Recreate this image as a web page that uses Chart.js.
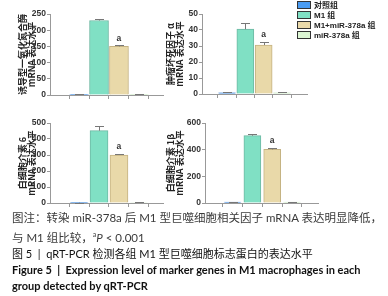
<!DOCTYPE html>
<html>
<head>
<meta charset="utf-8">
<script src="https://cdn.jsdelivr.net/npm/chart.js@4.4.0/dist/chart.umd.min.js"></script>
<style>
body { margin: 0; background: #fff; width: 388px; height: 296px; overflow: hidden; position: relative; }
canvas { position: absolute; }
#legend { position: absolute; left: 297px; top: 1px; font: bold 8px "Liberation Sans", "Noto Sans CJK SC", sans-serif; color: #222; }
#legend div { height: 10px; line-height: 10px; white-space: nowrap; }
#legend span { display: inline-block; width: 12px; height: 6px; border: 1px solid #333; vertical-align: -1px; margin-right: 3px; }
#cap { position: absolute; left: 12px; top: 210px; font-family: Lato, "Noto Sans CJK SC", sans-serif; font-size: 11.5px; line-height: 16px; color: #3a3a3a; white-space: nowrap; }
#cap .fig { color: #111; font-size: 11px; }
#cap .en { font-weight: bold; color: #111; font-size: 11px; }
</style>
</head>
<body>
<canvas id="c1" width="170" height="104" style="left:0;top:0"></canvas>
<canvas id="c2" width="165" height="103" style="left:150px;top:0"></canvas>
<canvas id="c3" width="170" height="103" style="left:0;top:109px"></canvas>
<canvas id="c4" width="175" height="103" style="left:150px;top:109px"></canvas>
<div id="legend"></div>
<div id="cap">
  <div>图注：转染 miR-378a 后 M1 型巨噬细胞相关因子 mRNA 表达明显降低，</div>
  <div>与 M1 组比较，<sup style="font-size:7px">a</sup><i>P</i> &lt; 0.001</div>
  <div class="fig">图 5 &nbsp;|&nbsp; qRT-PCR 检测各组 M1 型巨噬细胞标志蛋白的表达水平</div>
  <div class="en">Figure 5 &nbsp;|&nbsp; Expression level of marker genes in M1 macrophages in each</div>
  <div class="en">group detected by qRT-PCR</div>
</div>
<script>
const groups = ['对照组', 'M1 组', 'M1+miR-378a 组', 'miR-378a 组']
const fills = ['#4a9cf2', '#80e0c4', '#e9d9a9', '#ddf7d4']
const edges = ['#3472c4', '#6fb9a4', '#c4b282', '#b9d9b0']

const inosMean = [2, 230, 150, 2]
const inosErr = [1, 6, 3, 1]
const tnfMean = [0.8, 40.5, 30.6, 0.8]
const tnfErr = [0.2, 3.8, 1.7, 0.4]
const il6Mean = [2, 452, 300, 3]
const il6Err = [1, 28, 9, 2]
const il1bMean = [6, 505, 402, 6]
const il1bErr = [2, 12, 14, 2]
const sig = [false, false, true, false]

const legend = document.getElementById('legend')
groups.forEach((g, i) => {
    const row = document.createElement('div')
    row.innerHTML = `<span style="background:${fills[i]}"></span>${g}`
    legend.appendChild(row)
})

// error bars and the "a" marks, placed through the y scale
const errPlugin = {
    id: 'err',
    afterDatasetsDraw(chart, args, opts) {
        const { ctx, scales: { y } } = chart
        const means = chart.data.datasets[0].data.map(p => p.y)
        ctx.save()
        chart.getDatasetMeta(0).data.forEach((bar, i) => {
            const yTop = y.getPixelForValue(means[i] + opts.errs[i])
            const yVal = y.getPixelForValue(means[i])
            const cx = Math.round(bar.x) + 0.5
            ctx.strokeStyle = '#777'
            ctx.lineWidth = 1
            ctx.beginPath()
            ctx.moveTo(cx, yVal)
            ctx.lineTo(cx, Math.round(yTop) + 0.5)
            ctx.moveTo(cx - 4.5, Math.round(yTop) + 0.5)
            ctx.lineTo(cx + 4.5, Math.round(yTop) + 0.5)
            ctx.stroke()
            if (opts.sig[i]) {
                ctx.fillStyle = '#333'
                ctx.font = 'bold 8.5px "Liberation Sans", sans-serif'
                ctx.textAlign = 'center'
                ctx.textBaseline = 'bottom'
                ctx.fillText('a', bar.x, yTop - 3)
            }
        })
        ctx.restore()
    }
}

function makePanel(id, title, means, errs, yMax, yStep, xMin, xMax, barW, axisW, titlePad, padRight) {
    const ctx = document.getElementById(id).getContext('2d')
    return new Chart(ctx, {
        type: 'bar',
        data: {
            datasets: [{
                data: means.map((v, i) => ({ x: i, y: v })),
                backgroundColor: fills,
                borderColor: edges,
                borderWidth: 1,
                barThickness: barW
            }]
        },
        options: {
            responsive: false,
            animation: false,
            layout: { padding: { top: 14, right: padRight, bottom: 5, left: 0 } },
            plugins: { legend: { display: false }, tooltip: { enabled: false }, err: { errs: errs, sig: sig } },
            scales: {
                x: {
                    type: 'linear', min: xMin, max: xMax,
                    afterBuildTicks: s => { s.ticks = groups.map((g, i) => ({ value: i })) },
                    ticks: { display: false },
                    grid: { drawOnChartArea: false, drawTicks: true, tickLength: 4, color: '#999' },
                    border: { color: '#999' }
                },
                y: {
                    min: 0, max: yMax,
                    ticks: { stepSize: yStep, padding: 1, color: '#333', font: { family: 'Liberation Sans', size: 8.5, weight: 'bold' } },
                    grid: { drawOnChartArea: false, tickLength: 3, color: '#999' },
                    border: { color: '#999' },
                    title: {
                        display: true, text: [title, 'mRNA 表达水平'], color: '#222',
                        font: { family: '"Noto Sans CJK SC"', size: 9, weight: 'bold', lineHeight: 1.05 },
                        padding: { top: titlePad, bottom: 0 }
                    },
                    afterFit: s => { s.width = axisW }
                }
            }
        },
        plugins: [errPlugin]
    })
}

makePanel('c1', '诱导型一氧化氮合酶', inosMean, inosErr, 250, 50, -0.75, 3.5, 19, 50, 17.5, 7)
makePanel('c2', '肿瘤坏死因子 α', tnfMean, tnfErr, 50, 10, -0.65, 3.65, 17, 52, 15.5, 8)
makePanel('c3', '白细胞介素 6', il6Mean, il6Err, 500, 100, -0.75, 3.5, 18, 50, 17.5, 7)
makePanel('c4', '白细胞介素 1β', il1bMean, il1bErr, 600, 200, -0.68, 3.6, 17, 55, 15.5, 7)
</script>
</body>
</html>
